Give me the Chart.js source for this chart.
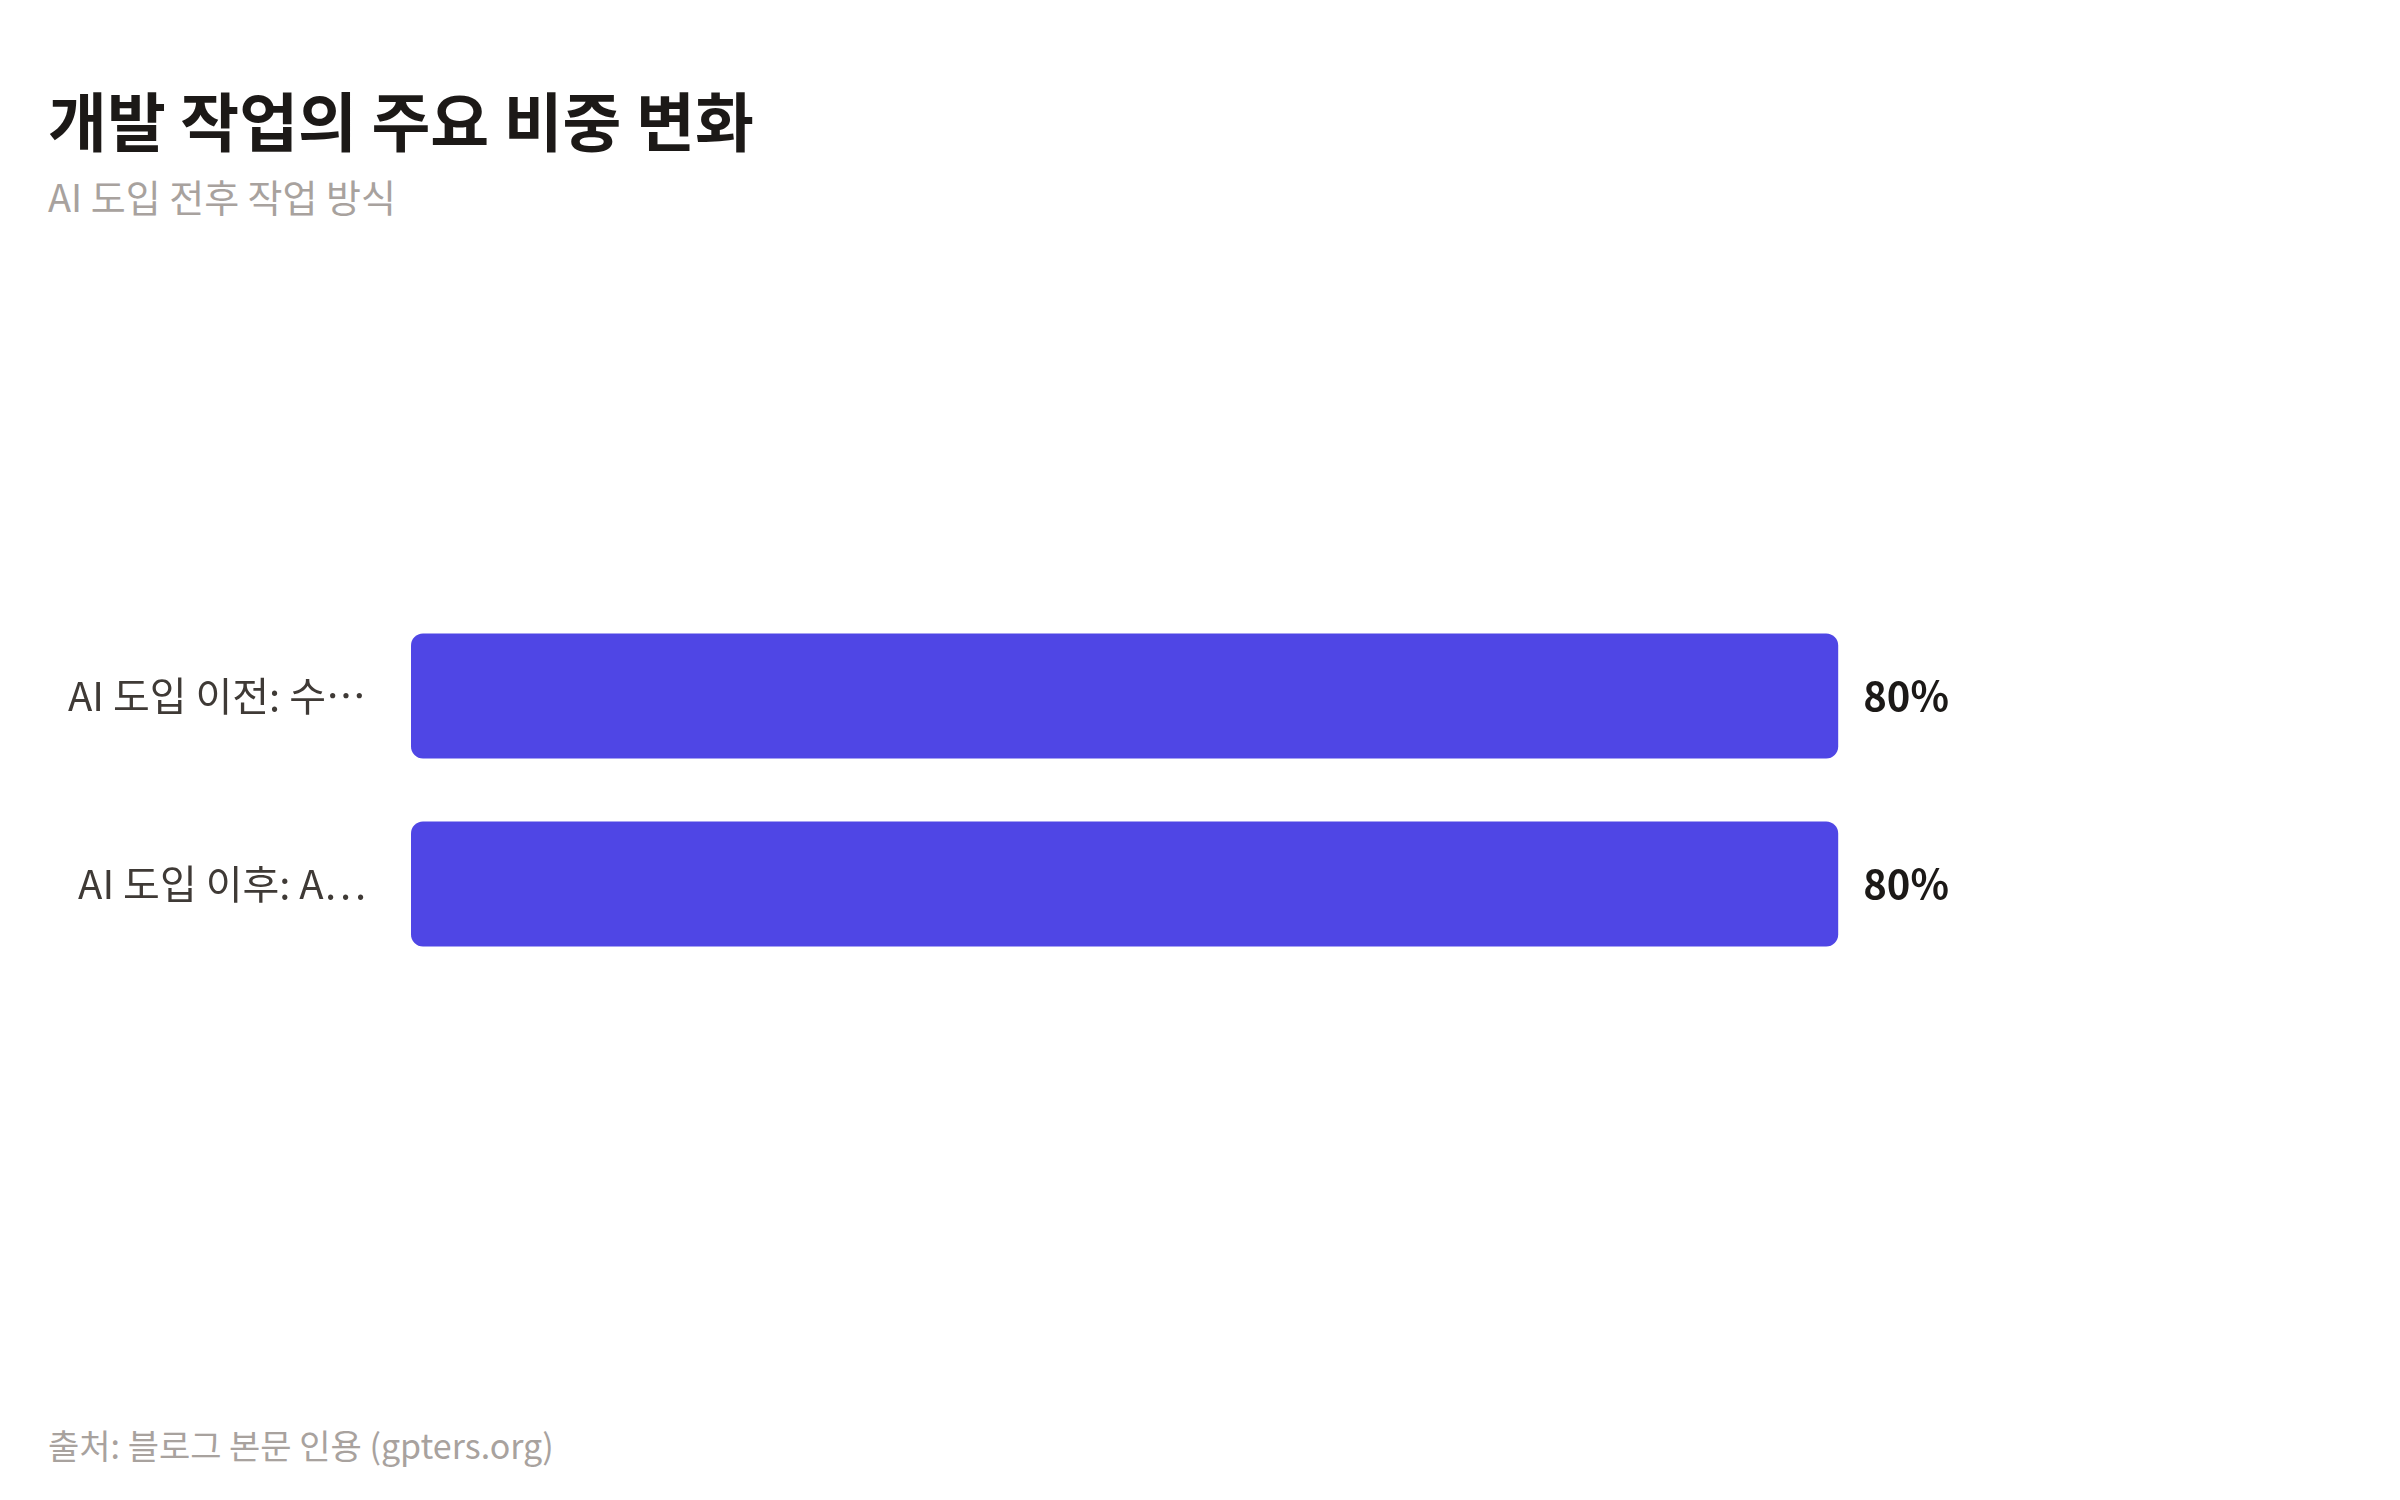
<!DOCTYPE html>
<html>
<head>
<meta charset="utf-8">
<script src="https://cdn.jsdelivr.net/npm/chart.js@4/dist/chart.umd.min.js"></script>
<style>
  html, body { margin: 0; padding: 0; background: #fff; }
  body { width: 2400px; height: 1500px; position: relative; font-family: 'Noto Sans CJK KR', 'Noto Sans', sans-serif; }
  #title { position: absolute; left: 48px; top: 72px; font-size: 64px; font-weight: 700; color: #1c1917; }
  #subtitle { position: absolute; left: 48px; top: 168px; font-size: 38px; color: #a8a29e; }
  #footer { position: absolute; left: 48px; top: 1420px; font-size: 34px; color: #a8a29e; }
  #wrap { position: absolute; left: 0; top: 0; width: 2400px; height: 1500px; }
</style>
</head>
<body>
<div id="title">개발 작업의 주요 비중 변화</div>
<div id="subtitle">AI 도입 전후 작업 방식</div>
<div id="footer">출처: 블로그 본문 인용 (gpters.org)</div>
<div id="wrap"><canvas id="c"></canvas></div>
<script>
const categories = ['AI 도입 이전: 수…', 'AI 도입 이후: A…']
const values = [80, 80]
const barColor = '#4F46E5'
const font = "'Noto Sans CJK KR', 'Noto Sans', sans-serif"

const valueLabels = {
  id: 'valueLabels',
  afterDatasetsDraw(chart) {
    const { ctx } = chart
    ctx.save()
    ctx.font = `700 40px ${font}`
    ctx.fillStyle = '#1c1917'
    ctx.textAlign = 'left'
    ctx.textBaseline = 'middle'
    chart.getDatasetMeta(0).data.forEach((bar, i) => {
      ctx.fillText(`${values[i]}%`, bar.x + 25, bar.y)
    })
    ctx.restore()
  }
}

new Chart(document.getElementById('c'), {
  type: 'bar',
  data: {
    labels: categories,
    datasets: [{
      data: values,
      backgroundColor: barColor,
      borderRadius: 12,
      borderSkipped: false,
      barPercentage: 0.83,
      categoryPercentage: 0.8,
    }]
  },
  options: {
    indexAxis: 'y',
    responsive: true,
    maintainAspectRatio: false,
    animation: false,
    layout: { padding: { top: 602, bottom: 522, right: 205, left: 0 } },
    plugins: { legend: { display: false }, tooltip: { enabled: false } },
    scales: {
      x: { min: 0, max: 100, display: false },
      y: {
        grid: { display: false },
        border: { display: false },
        ticks: { color: '#3f3a36', font: { family: font, size: 40 }, padding: 37 },
        afterFit(scale) { scale.width = 411 }
      }
    }
  },
  plugins: [valueLabels]
})
</script>
</body>
</html>
